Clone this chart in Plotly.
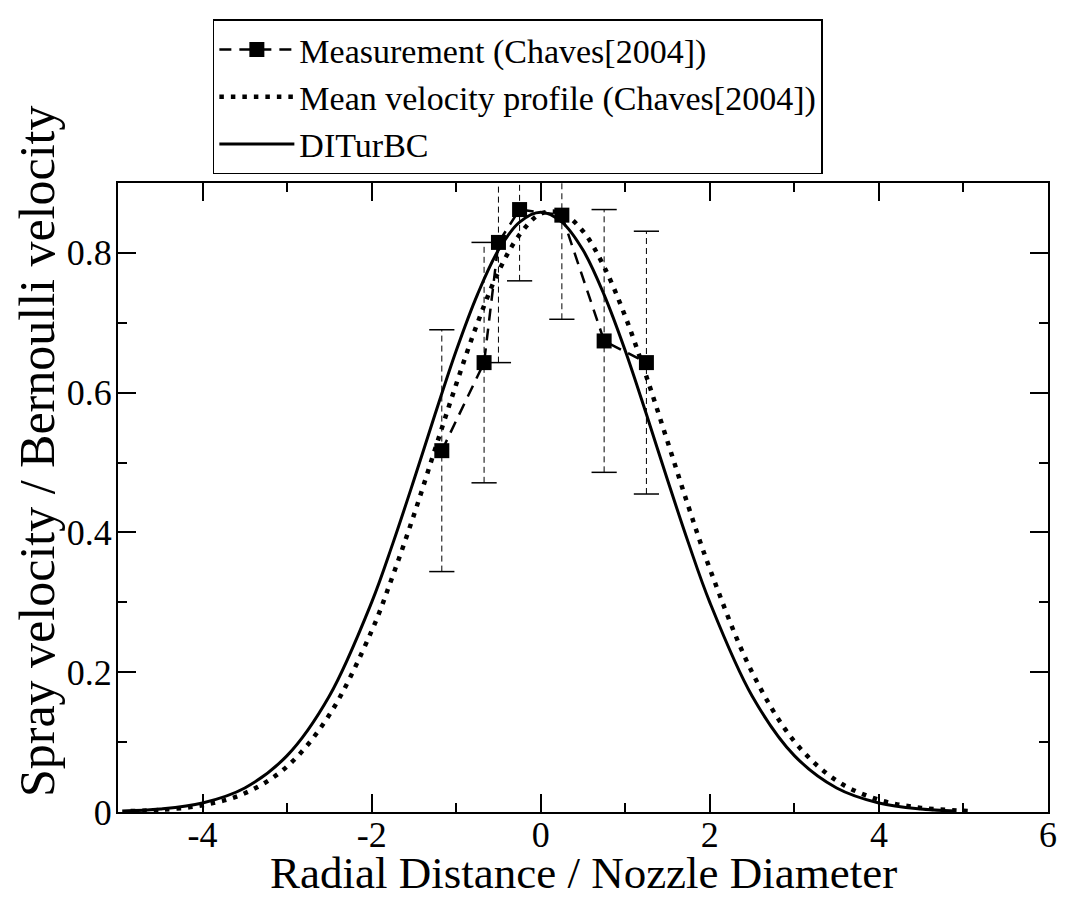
import plotly.graph_objects as go

# Measurement (Chaves 2004): points with error bars
meas_x = [-1.17, -0.67, -0.5, -0.25, 0.25, 0.75, 1.25]
meas_y = [0.517, 0.643, 0.815, 0.862, 0.854, 0.674, 0.643]
meas_err = [0.173, 0.172, 0.172, 0.102, 0.149, 0.188, 0.188]

# Mean velocity profile (Chaves 2004), dotted
mean_x = [-4.85, -4.5, -4.0, -3.5, -3.0, -2.5, -2.0, -1.75, -1.5, -1.25, -1.0, -0.75, -0.5, -0.25,
          0.0, 0.25, 0.5, 0.75, 1.0, 1.25, 1.5, 1.75, 2.0, 2.5, 3.0, 3.5, 4.0, 4.5, 5.0, 5.12]
mean_y = [0.0013, 0.0031, 0.0097, 0.0268, 0.0651, 0.139, 0.259, 0.338, 0.425, 0.519, 0.612, 0.699, 0.773, 0.826,
          0.856, 0.857, 0.831, 0.780, 0.709, 0.623, 0.530, 0.436, 0.348, 0.200, 0.101, 0.0448, 0.0174, 0.0059, 0.0018, 0.0013]

# DITurBC, solid
dit_x = [-4.95, -4.5, -4.0, -3.5, -3.0, -2.5, -2.0, -1.75, -1.5, -1.25, -1.0, -0.75, -0.5, -0.25,
         0.0, 0.25, 0.5, 0.75, 1.0, 1.25, 1.5, 1.75, 2.0, 2.5, 3.0, 3.5, 4.0, 4.5, 4.9]
dit_y = [0.0013, 0.0042, 0.0129, 0.0344, 0.0807, 0.166, 0.300, 0.384, 0.475, 0.569, 0.660, 0.740, 0.804, 0.844,
         0.858, 0.844, 0.804, 0.740, 0.660, 0.569, 0.475, 0.384, 0.300, 0.166, 0.0807, 0.0344, 0.0129, 0.0042, 0.0015]

# tick labels (plain hyphen as in the original)
x_ticks = [-4, -2, 0, 2, 4, 6]
x_ticktext = ["-4", "-2", "0", "2", "4", "6"]
y_ticks = [0, 0.2, 0.4, 0.6, 0.8]
y_ticktext = ["0", "0.2", "0.4", "0.6", "0.8"]

FONT = "Liberation Serif, Times New Roman, serif"

# error bar segments and cap positions
eb_x, eb_y = [], []
cap_x, cap_y = [], []
for x, y, e in zip(meas_x, meas_y, meas_err):
    eb_x += [x, x, None]
    eb_y += [y - e, y + e, None]
    cap_x += [x, x]
    cap_y += [y - e, y + e]

fig = go.Figure()

fig.add_trace(go.Scatter(x=eb_x, y=eb_y, mode='lines', showlegend=False, hoverinfo='skip',
                         line=dict(color='black', width=1, dash='6px,4px')))
fig.add_trace(go.Scatter(x=cap_x, y=cap_y, mode='markers', showlegend=False, hoverinfo='skip',
                         marker=dict(symbol='line-ew', size=18, line=dict(color='black', width=1.5))))

fig.add_trace(go.Scatter(x=mean_x, y=mean_y, mode='lines', name="Mean velocity profile (Chaves[2004])",
                         line=dict(color='black', width=4.5, dash='4.5px,7px', shape='spline'),
                         legendrank=2))
fig.add_trace(go.Scatter(x=dit_x, y=dit_y, mode='lines', name="DITurBC",
                         line=dict(color='black', width=3, shape='spline'), legendrank=3))
fig.add_trace(go.Scatter(x=meas_x, y=meas_y, mode='lines+markers', name="Measurement (Chaves[2004])",
                         line=dict(color='black', width=2.5, dash='12px,8px'),
                         marker=dict(symbol='square', size=15, color='black'), legendrank=1))

axis_common = dict(showline=True, linecolor='black', linewidth=2, mirror='ticks',
                   ticks='inside', ticklen=18, tickwidth=1.5, tickcolor='black',
                   showgrid=False, zeroline=False, automargin=False,
                   tickfont=dict(family=FONT, size=36, color='black'))

fig.update_xaxes(range=[-5, 6], tickmode='array', tickvals=x_ticks, ticktext=x_ticktext,
                 minor=dict(dtick=1, tick0=0, ticklen=9, tickwidth=1.5, tickcolor='black', ticks='inside'),
                 ticklabelstandoff=-10,
                 **axis_common)
fig.update_yaxes(range=[0, 0.9], tickmode='array', tickvals=y_ticks, ticktext=y_ticktext,
                 minor=dict(dtick=0.1, tick0=0, ticklen=9, tickwidth=1.5, tickcolor='black', ticks='inside'),
                 ticklabelstandoff=-3,
                 **axis_common)

# axis titles as annotations for exact placement
fig.add_annotation(text="Radial Distance / Nozzle Diameter", xref='paper', yref='paper',
                   x=0.5, y=-0.097, xanchor='center', yanchor='middle', showarrow=False,
                   font=dict(family=FONT, size=45, color='black'))
fig.add_annotation(text="Spray velocity / Bernoulli velocity", xref='paper', yref='paper',
                   x=-0.087, y=0.574, xanchor='center', yanchor='middle', showarrow=False,
                   textangle=-90, font=dict(family=FONT, size=50, color='black'))

# page body has an 8px margin, so the figure is sized and offset to fit the window
fig.update_layout(width=1057, height=893, plot_bgcolor='white', paper_bgcolor='white',
                  margin=dict(l=110, r=17, t=169, b=89),
                  font=dict(family=FONT, color='black'),
                  legend=dict(x=0.102, y=1.26, xanchor='left', yanchor='top',
                              bordercolor='black', borderwidth=1.5, bgcolor='white',
                              font=dict(family=FONT, size=34, color='black'),
                              itemwidth=75, tracegroupgap=0))

fig.write_html("out.html")
